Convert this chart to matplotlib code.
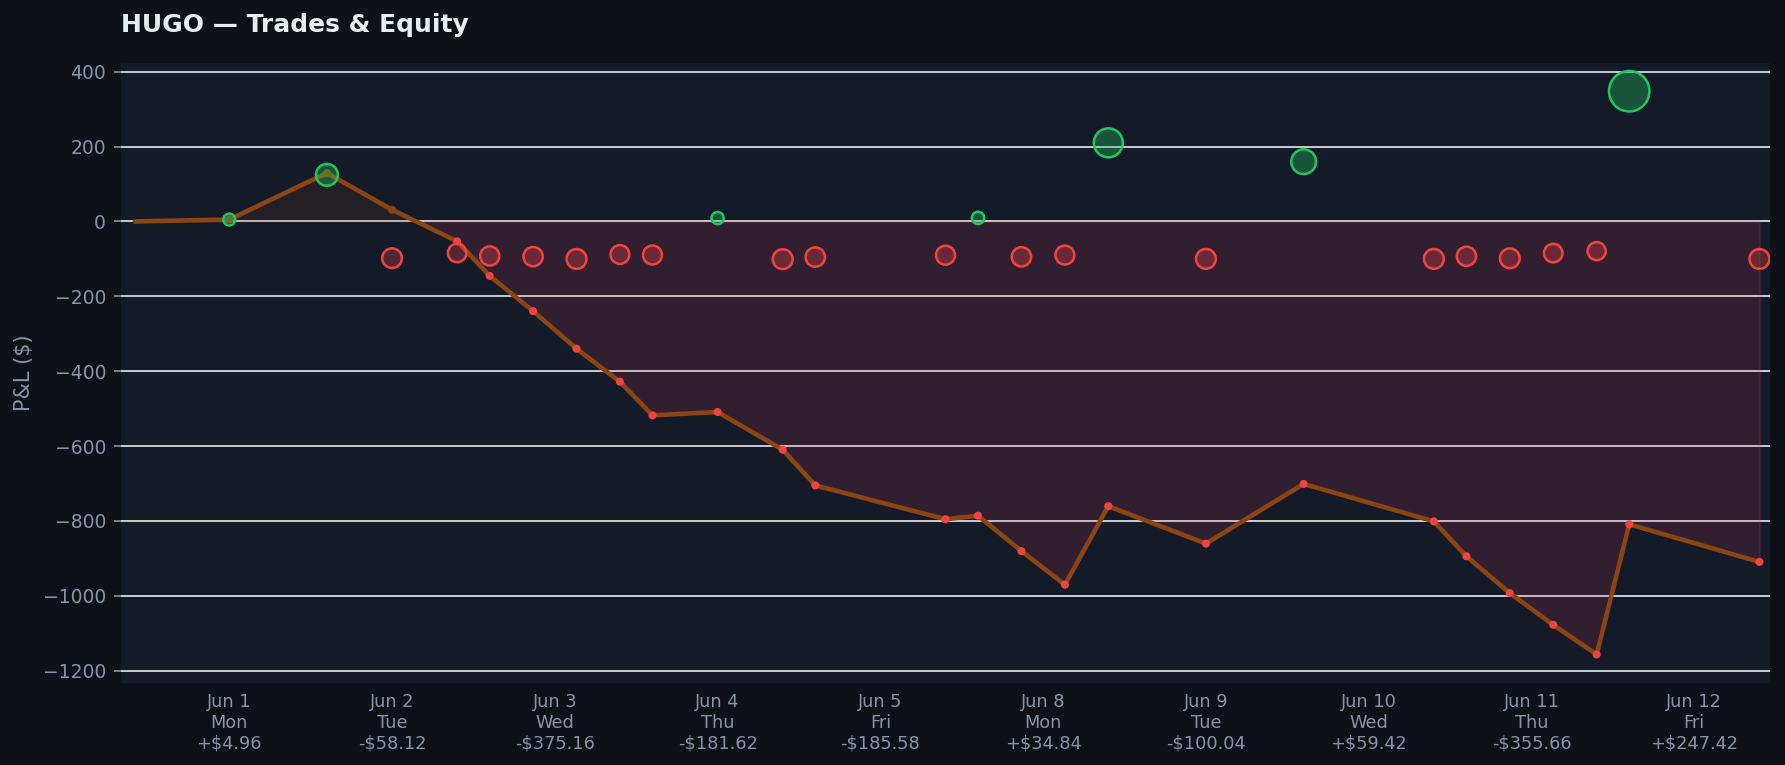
import numpy as np
from matplotlib import pyplot as plt

# trades per day (P&L in $)
days = ['Jun 1', 'Jun 2', 'Jun 3', 'Jun 4', 'Jun 5', 'Jun 8', 'Jun 9', 'Jun 10', 'Jun 11', 'Jun 12']
weekdays = ['Mon', 'Tue', 'Wed', 'Thu', 'Fri', 'Mon', 'Tue', 'Wed', 'Thu', 'Fri']
trades = [
	[4.96],
	[124.36, -98.20, -84.28],
	[-92.4, -94.1, -100.3, -88.36],
	[-89.7, 8.9, -100.82],
	[-95.3, -90.28],
	[9.4, -94.6, -89.9, 209.94],
	[-100.04],
	[159.5, -100.08],
	[-93.2, -98.5, -84.6, -79.36],
	[347.8, -100.38],
]

BG = '#0e1117'
AX_BG = '#151a28'
TXT = '#8a93a6'
GREEN = '#22c55e'
RED = '#ef4444'
LINE = '#8b4513'

# place trades within their day slot
xs = []
pnl = []
for i, day in enumerate(trades):
	n = len(day)
	pos = np.linspace(i - 0.4, i + 0.4, n) if n > 1 else [i]
	xs += list(pos)
	pnl += day
xs = np.array(xs)
pnl = np.array(pnl)

eq_x = np.concatenate([[xs[0] - 0.58], xs])
eq_y = np.concatenate([[0], np.cumsum(pnl)])

fig = plt.figure(figsize=(11.9, 5.1), dpi=150, facecolor=BG)
ax = fig.add_axes([0.0676, 0.1076, 0.9240, 0.8100])
ax.set_facecolor(AX_BG)

ax.fill_between(eq_x, eq_y, 0, where=eq_y < 0, interpolate=True, color='#f43f5e', alpha=0.13)
ax.fill_between(eq_x, eq_y, 0, where=eq_y >= 0, interpolate=True, color=LINE, alpha=0.12)

ax.plot(eq_x, eq_y, color=LINE, lw=2.2, zorder=3, solid_capstyle='round')
dot_cols = [RED if v < 0 else LINE for v in eq_y[1:]]
ax.scatter(xs, eq_y[1:], s=15, c=dot_cols, zorder=4, linewidths=0)

sizes = (5.5 + 0.04 * np.abs(pnl)) ** 2
win = pnl > 0
ax.scatter(xs[win], pnl[win], s=sizes[win], facecolor=(0.133, 0.773, 0.369, 0.35),
	edgecolor=GREEN, linewidths=1.2, zorder=5)
ax.scatter(xs[~win], pnl[~win], s=sizes[~win], facecolor=(0.937, 0.267, 0.267, 0.3),
	edgecolor=RED, linewidths=1.2, zorder=5)

ax.set_xlim(-0.667, 9.465)
ax.grid(axis='y', color='#e8e9ee', lw=0.8)
ax.set_axisbelow(True)
for s in ax.spines.values():
	s.set_visible(False)

day_tot = [sum(d) for d in trades]
labels = ['{}\n{}\n{}${:.2f}'.format(d, w, '+' if t >= 0 else '-', abs(t))
	for d, w, t in zip(days, weekdays, day_tot)]
ax.set_xticks(range(len(days)))
ax.set_xticklabels(labels, fontsize=8.5, color=TXT, linespacing=1.2)
ax.tick_params(axis='x', length=0, pad=5)
ax.tick_params(axis='y', colors=TXT, labelsize=9, labelcolor=TXT)
ax.set_yticks(range(-1200, 401, 200))

ax.set_ylabel('P&L ($)', color=TXT, fontsize=10)
ax.set_title('HUGO — Trades & Equity', loc='left', fontsize=12, fontweight='bold',
	color='#e6edf3', pad=15)

plt.savefig('out.png', dpi=150, facecolor=BG)
